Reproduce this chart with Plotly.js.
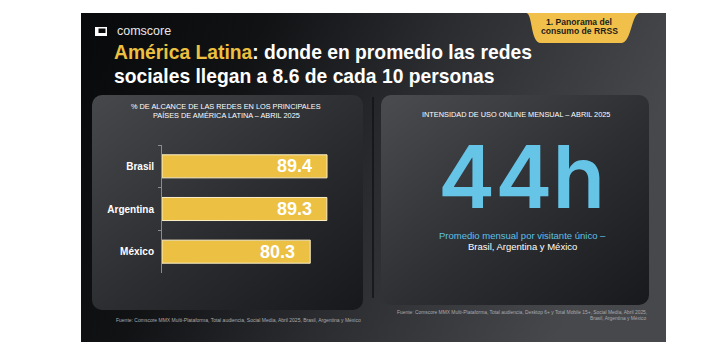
<!DOCTYPE html>
<html>
<head>
<meta charset="utf-8">
<script src="https://cdn.plot.ly/plotly-3.0.1.min.js"></script>
<style>html,body{margin:0;padding:0;background:#fff;}#chart{width:717px;height:349px;}</style>
</head>
<body>
<div id="chart"></div>
<script>
// ---- data ----
const countries = ['Brasil', 'Argentina', 'México'];
const reach = [89.4, 89.3, 80.3];
const monthlyHours = 44;
const hoursUnit = 'h';

const W = 717, H = 349;
const px = x => x / W;
const py = y => 1 - y / H;
const FONT = 'Arial, "Liberation Sans", Helvetica, sans-serif';

const svg = `<svg xmlns='http://www.w3.org/2000/svg' width='717' height='349' viewBox='0 0 717 349'>
<defs>
<linearGradient id='bg' x1='0' y1='0' x2='1' y2='0.25'>
<stop offset='0' stop-color='#08090b'/><stop offset='0.3' stop-color='#111214'/><stop offset='0.6' stop-color='#2a2c30'/><stop offset='1' stop-color='#46484c'/>
</linearGradient>
<linearGradient id='p1' x1='0' y1='0' x2='1' y2='1'>
<stop offset='0' stop-color='#46484c'/><stop offset='0.55' stop-color='#2b2c30'/><stop offset='1' stop-color='#17181b'/>
</linearGradient>
<linearGradient id='p2' x1='0' y1='0' x2='1' y2='1'>
<stop offset='0' stop-color='#4a4c50'/><stop offset='0.55' stop-color='#2c2e32'/><stop offset='1' stop-color='#18191c'/>
</linearGradient>
</defs>
<rect x='81' y='13' width='585' height='329' fill='url(#bg)'/>
<rect x='92' y='95' width='271' height='215' rx='10' ry='10' fill='url(#p1)'/>
<rect x='381' y='95' width='268' height='210' rx='10' ry='10' fill='url(#p2)'/>
<line x1='373' y1='97' x2='373' y2='298' stroke='#121315' stroke-width='1.5'/>
</svg>`;
const bgSrc = 'data:image/svg+xml;charset=utf-8,' + encodeURIComponent(svg);

const trace = {
  type: 'bar',
  orientation: 'h',
  x: reach,
  y: countries,
  marker: { color: '#EBC043', line: { color: '#FBEFC8', width: 1 } },
  hoverinfo: 'skip',
  showlegend: false
};

const annotations = [];
function note(text, x, y, size, color, opts) {
  annotations.push(Object.assign({
    text: text, xref: 'paper', yref: 'paper', x: px(x), y: py(y),
    showarrow: false, xanchor: 'center', yanchor: 'middle',
    font: { family: FONT, size: size, color: color }
  }, opts || {}));
}

// header
note('comscore', 115, 31, 12.5, '#e8e8e8', { xanchor: 'left' });
note("<b><span style='color:#EDC03F'>América Latina</span>: donde en promedio las redes</b>", 112, 52, 19.3, '#ffffff', { xanchor: 'left' });
note('<b>sociales llegan a 8.6 de cada 10 personas</b>', 112, 76, 19.3, '#ffffff', { xanchor: 'left' });
note('<b>1. Panorama del</b>', 579, 22, 8.6, '#1c1c1c');
note('<b>consumo de RRSS</b>', 579, 31, 8.6, '#1c1c1c');

// left panel
note('% DE ALCANCE DE LAS REDES EN LOS PRINCIPALES', 226, 106.5, 7.35, '#ffffff');
note('PAÍSES DE AMÉRICA LATINA – ABRIL 2025', 226, 115.5, 7.35, '#ffffff');
reach.forEach((v, i) => {
  annotations.push({
    text: '<b>' + v.toFixed(1) + '</b>', xref: 'x', yref: 'y', x: v, y: countries[i],
    xanchor: 'right', yanchor: 'middle', xshift: -13, showarrow: false,
    font: { family: FONT, size: 18, color: '#ffffff' }
  });
});
note('Fuente: Comscore MMX Multi-Plataforma, Total audiencia, Social Media, Abril 2025, Brasil, Argentina y México', 363, 320, 5.0, '#a9aaad', { xanchor: 'right' });

// right panel
note('INTENSIDAD DE USO ONLINE MENSUAL – ABRIL 2025', 516, 114, 7.35, '#ffffff');
note(String(monthlyHours) + hoursUnit, 521, 177, 86, '#66C4E7', { font: { family: 'Inter, "Open Sans", sans-serif', size: 86, color: '#66C4E7', weight: 600 } });
note('Promedio mensual por visitante único –', 522, 235, 9.5, '#5EC0E6');
note('Brasil, Argentina y México', 522, 246.5, 9.5, '#ffffff');
note('Fuente: Comscore MMX Multi-Plataforma, Total audiencia, Desktop 6+ y Total Mobile 15+, Social Media, Abril 2025,', 649, 312, 4.9, '#a9aaad', { xanchor: 'right' });
note('Brasil, Argentina y México', 649, 318, 4.9, '#a9aaad', { xanchor: 'right' });

const shapes = [
  // tab
  { type: 'path', xref: 'paper', yref: 'paper', layer: 'above',
    path: `M ${px(526)},${py(13)} C ${px(533)},${py(13)} ${px(530)},${py(43)} ${px(541)},${py(43)} L ${px(621)},${py(43)} C ${px(632)},${py(43)} ${px(631)},${py(13)} ${px(640)},${py(13)} Z`,
    fillcolor: '#F1C04A', line: { width: 0 } },
  // logo
  { type: 'rect', xref: 'paper', yref: 'paper', x0: px(95), x1: px(107), y0: py(36), y1: py(27), fillcolor: '#ffffff', line: { width: 0 }, layer: 'above' },
  { type: 'rect', xref: 'paper', yref: 'paper', x0: px(98.5), x1: px(105.5), y0: py(33), y1: py(28.5), fillcolor: '#0a0a0a', line: { width: 0 }, layer: 'above' }
];

const layout = {
  width: W, height: H,
  margin: { l: 0, r: 0, t: 0, b: 0 },
  paper_bgcolor: '#ffffff',
  plot_bgcolor: 'rgba(0,0,0,0)',
  font: { family: FONT },
  bargap: 0.46,
  xaxis: { domain: [px(162), px(162 + 184.6)], range: [0, 100], visible: false, fixedrange: true },
  yaxis: {
    domain: [py(273), py(145)], type: 'category', categoryorder: 'array', categoryarray: countries,
    autorange: 'reversed', tickson: 'boundaries', ticks: 'outside', ticklen: 3, tickcolor: '#8a8b8e',
    showline: true, linecolor: '#8a8b8e', linewidth: 1, showgrid: false, zeroline: false,
    tickfont: { family: FONT, size: 10, color: '#ffffff', weight: 'bold' }, ticklabelstandoff: 5, fixedrange: true
  },
  images: [{ source: bgSrc, xref: 'paper', yref: 'paper', x: 0, y: 1, sizex: 1, sizey: 1, sizing: 'stretch', xanchor: 'left', yanchor: 'top', layer: 'below' }],
  shapes: shapes,
  annotations: annotations
};

Plotly.newPlot('chart', [trace], layout, { staticPlot: true, displayModeBar: false });
</script>
</body>
</html>
